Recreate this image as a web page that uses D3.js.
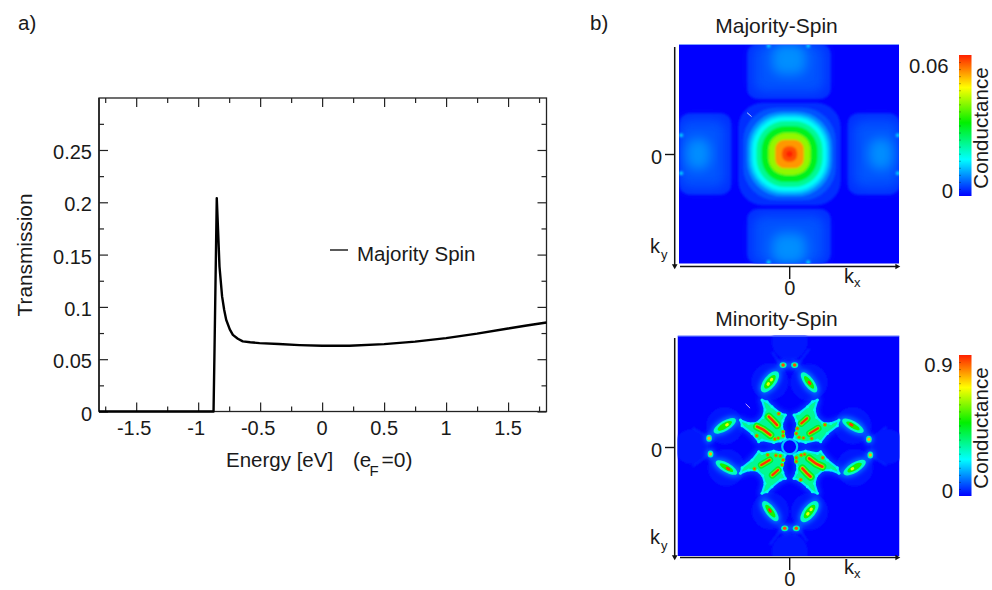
<!DOCTYPE html>
<html><head><meta charset="utf-8">
<script src="https://cdn.jsdelivr.net/npm/d3@7/dist/d3.min.js"></script>
<style>html,body{margin:0;padding:0;background:#fff}svg{display:block}text{font-family:"Liberation Sans",Arial,sans-serif;fill:#1a1a1a}</style>
</head><body><svg id="c" width="992" height="590"></svg>
<script>
// ---------- panel a) data ----------
const energy = [-1.8,-1.5,-1.2,-0.95,-0.876,-0.868,-0.85,-0.84,-0.828,-0.807,-0.79,-0.774,-0.745,-0.72,-0.68,-0.64,-0.58,-0.505,-0.35,-0.183,0,0.22,0.5,0.75,1,1.25,1.5,1.65,1.81];
const transmission = [0,0,0,0,0,0.06,0.204,0.175,0.1386,0.110,0.097,0.0877,0.0785,0.0733,0.0695,0.067,0.0662,0.0654,0.0645,0.0635,0.0628,0.0628,0.0644,0.0668,0.0702,0.0744,0.0793,0.0822,0.0851];
const xTicks = [-1.5,-1,-0.5,0,0.5,1,1.5];
const xMinor = [-1.75,-1.25,-0.75,-0.25,0.25,0.75,1.25,1.75];
const yTicks = [0,0.05,0.1,0.15,0.2,0.25];
const yMinor = [0.025,0.075,0.125,0.175,0.225,0.275];

// ---------- panel b) majority map: [half-width, corner, conductance] in k units ----------
const majorityBands = [[0.465,0.22,0.003],[0.42,0.3,0.0055],[0.385,0.32,0.0095],[0.36,0.31,0.0135],[0.335,0.29,0.0175],[0.30,0.26,0.024],[0.255,0.22,0.032],[0.19,0.155,0.043],[0.13,0.085,0.057],[0.07,0.06,0.062],[0.03,0.03,0.065]];
// [x0,x1,y0,y1,corner,conductance,blur id]
const majorityLobes = [
  [-0.385,0.375,0.50,1.0,0.09,0.003,"b1"],[-0.33,0.32,0.56,1.0,0.09,0.0055,"b4"],[-0.16,0.15,0.72,1.0,0.09,0.0095,"b4"],
  [-0.385,0.375,-1.0,-0.50,0.09,0.003,"b1"],[-0.33,0.32,-1.0,-0.56,0.09,0.0055,"b4"],[-0.16,0.15,-1.0,-0.72,0.09,0.0095,"b4"],
  [-1.0,-0.53,-0.37,0.37,0.09,0.003,"b1"],[-1.0,-0.58,-0.31,0.31,0.09,0.0055,"b4"],[-0.94,-0.72,-0.14,0.14,0.09,0.0095,"b4"],
  [0.53,1.0,-0.37,0.37,0.09,0.003,"b1"],[0.58,1.0,-0.31,0.31,0.09,0.0055,"b4"],[0.72,0.94,-0.14,0.14,0.09,0.0095,"b4"]
];
const majoritySpots = [[-0.19,0.985,0.014],[0.17,0.985,0.014],[-0.19,-0.985,0.014],[0.17,-0.985,0.014],[-0.985,0.17,0.014],[-0.985,-0.175,0.014],[0.985,0.17,0.014],[0.985,-0.175,0.014]];

// ---------- panel b) minority map, upper half; the lower half is its 180-degree image ----------
const clusterOutline = [[-0.252,0.424],[-0.206,0.409],[-0.161,0.364],[-0.085,0.303],[-0.039,0.288],[-0.062,0.235],[-0.072,0.19],[-0.055,0.125],[-0.039,0.07],[-0.085,0.052],[-0.145,0.039],[-0.252,0.061],[-0.282,0.045],[-0.342,0.121],[-0.433,0.191],[-0.448,0.242],[-0.373,0.212],[-0.30,0.215],[-0.245,0.265],[-0.225,0.335]];
const streaksLeft = [[[-0.297,0.182],[-0.24,0.155],[-0.176,0.106]],[[-0.19,0.273],[-0.155,0.24],[-0.115,0.197]]];
const streaksRight = [[[0.106,0.212],[0.158,0.258]],[[0.182,0.121],[0.258,0.167]]];
const clusterDots = [[-0.105,0.078],[-0.06,0.1],[-0.06,0.135],[-0.135,0.07],[0.085,0.085],[0.06,0.12],[0.125,0.08],[0.07,0.165],[0.2,0.075],[0.32,0.2],[-0.3,0.1],[-0.1,0.3]];
// [x,y,half length,half width,angle,conductance]
const minorityBlobs = [
  [-0.18,0.59,0.135,0.075,52,0.12],[-0.18,0.59,0.115,0.055,52,0.32],[-0.18,0.59,0.075,0.032,52,0.54],[-0.195,0.57,0.018,0.014,52,0.75],[-0.165,0.61,0.018,0.014,52,0.75],
  [0.176,0.585,0.135,0.065,-53,0.12],[0.176,0.585,0.11,0.044,-53,0.32],[0.176,0.585,0.07,0.024,-53,0.54],[0.18,0.58,0.022,0.013,-53,0.98],
  [-0.59,0.19,0.135,0.065,31,0.12],[-0.59,0.19,0.115,0.046,31,0.32],[-0.59,0.19,0.075,0.026,31,0.54],[-0.57,0.2,0.018,0.013,31,0.75],
  [0.575,0.19,0.135,0.065,-30,0.12],[0.575,0.19,0.11,0.042,-30,0.32],[0.575,0.19,0.07,0.022,-30,0.54],[0.56,0.2,0.022,0.013,-30,0.98],
  [-0.06,0.742,0.05,0.04,0,0.12],[0.045,0.742,0.05,0.04,0,0.12],[-0.06,0.742,0.032,0.026,0,0.34],[0.045,0.742,0.032,0.026,0,0.34],[-0.06,0.742,0.016,0.016,0,0.95],[0.045,0.742,0.016,0.016,0,0.95],
  [-0.733,0.076,0.04,0.048,0,0.12],[0.72,0.067,0.04,0.048,0,0.12],[-0.733,0.076,0.026,0.032,0,0.34],[0.72,0.067,0.026,0.032,0,0.34],[-0.733,0.076,0.015,0.016,0,0.85],[0.72,0.067,0.015,0.016,0,0.85]
];
const minorityHalos = [[0,0.955,0.165],[-0.89,0,0.16],[-0.18,0.59,0.17],[0.176,0.585,0.17],[-0.59,0.19,0.17],[0.575,0.19,0.17]];
const minorityTails = [[[-0.1,0.77],[-0.16,0.86]],[[0.09,0.77],[0.18,0.89]],[[-0.77,0.1],[-0.88,0.17]],[[0.76,0.09],[0.88,0.18]]];
const colorStops = [0,0.26,0.52,0.77,1];
const colorNames = ["#0000ff","#00ffff","#00f000","#ffff00","#ff2000"];

// ---------- layout ----------
const svg = d3.select("#c");
const defs = svg.append("defs");
function blur(id,s){defs.append("filter").attr("id",id).attr("x","-30%").attr("y","-30%").attr("width","160%").attr("height","160%").append("feGaussianBlur").attr("stdDeviation",s);}
blur("b05",0.8);blur("b06",0.7);blur("b1",1.2);blur("b2",2.4);blur("b4",6);
const txt=(x,y,s,size,anchor)=>svg.append("text").attr("x",x).attr("y",y).attr("font-size",size).attr("text-anchor",anchor||"start").text(s);

// panel a
const x = d3.scaleLinear([-1.8,1.81],[99,546.5]);
const y = d3.scaleLinear([0,0.2997],[411.5,98]);
const ax=(gen,ty,vals,len)=>{const g=svg.append("g").attr("transform",ty).call(gen.tickValues(vals).tickSize(len).tickSizeOuter(0).tickFormat(""));g.select(".domain").remove();g.selectAll("line").attr("stroke","#222").attr("stroke-width",1.2);return g;};
svg.append("rect").attr("x",99).attr("y",98).attr("width",447.5).attr("height",313.5).attr("fill","none").attr("stroke","#222").attr("stroke-width",1.3);
svg.append("line").attr("x1",99).attr("x2",99).attr("y1",98).attr("y2",411.5).attr("stroke","#222").attr("stroke-width",1.6);
ax(d3.axisTop(x),"translate(0,411.5)",xTicks,9);
ax(d3.axisTop(x),"translate(0,411.5)",xMinor,5);
ax(d3.axisBottom(x),"translate(0,98)",xTicks,9);
ax(d3.axisBottom(x),"translate(0,98)",xMinor,5);
ax(d3.axisRight(y),"translate(99,0)",yTicks,9);
ax(d3.axisRight(y),"translate(99,0)",yMinor,5);
ax(d3.axisLeft(y),"translate(546.5,0)",yTicks,9);
ax(d3.axisLeft(y),"translate(546.5,0)",yMinor,5);
xTicks.forEach(v=>txt(x(v)-(v<0?2:0),435,String(v),20,"middle"));
yTicks.forEach(v=>txt(92,y(v)+9,String(v),20,"end"));
svg.append("path").attr("d",d3.line().x((d,i)=>x(energy[i])).y(d=>y(d))(transmission)).attr("fill","none").attr("stroke","#000").attr("stroke-width",2.4).attr("stroke-linejoin","round");
svg.append("line").attr("x1",330).attr("x2",348).attr("y1",250).attr("y2",250).attr("stroke","#000").attr("stroke-width",1.3);
txt(357,261,"Majority Spin",20.5);
txt(226,467,"Energy [eV]",20.5);
txt(353,467,"(e",20.5);
svg.append("text").attr("x",369.5).attr("y",476).attr("font-size",15).text("F");
txt(381.5,467,"=0)",21);
svg.append("text").attr("transform","translate(31.5,255) rotate(-90)").attr("text-anchor","middle").attr("font-size",20.8).text("Transmission");
txt(18,30,"a)",20.5);
txt(590,30,"b)",20.5);

// colours
function colorFor(max){return d3.scaleLinear(colorStops.map(s=>s*max),colorNames).clamp(true);}
const grad=defs.append("linearGradient").attr("id","cbar").attr("x1",0).attr("x2",0).attr("y1",1).attr("y2",0);
colorStops.forEach((s,i)=>grad.append("stop").attr("offset",s).attr("stop-color",colorNames[i]));

function colorbar(top,bot,topLabel,topLabelX,topY,zeroY,confY){
  svg.append("rect").attr("x",959).attr("y",top).attr("width",12.5).attr("height",bot-top).attr("fill","url(#cbar)");
  const s=d3.scaleLinear([0,1],[bot,top]);
  const g=svg.append("g").attr("transform","translate(959,0)").call(d3.axisRight(s).tickValues(d3.range(1,20).map(d=>d/20)).tickSize(2).tickFormat(""));
  g.select(".domain").remove();g.selectAll("line").attr("stroke","#000").attr("stroke-opacity",0.3);
  txt(topLabelX,topY,topLabel,20.3,"end");
  txt(953,zeroY,"0",20.3,"end");
  svg.append("text").attr("transform",`translate(988,${confY}) rotate(-90)`).attr("text-anchor","middle").attr("font-size",20.6).text("Conductance");
}
function frame(cy,top,bot,titleY,title){
  const s=svg.append("g");
  const mid=789.7;
  s.append("line").attr("x1",674.7).attr("x2",674.7).attr("y1",top+2).attr("y2",bot+1).attr("stroke","#111").attr("stroke-width",1.5);
  s.append("path").attr("d",d3.symbol(d3.symbolTriangle,14)()).attr("transform",`translate(674.7,${bot+1}) rotate(180)`).attr("fill","#111");
  s.append("line").attr("x1",680).attr("x2",897).attr("y1",bot+1.5).attr("y2",bot+1.5).attr("stroke","#111").attr("stroke-width",1.5);
  s.append("path").attr("d",d3.symbol(d3.symbolTriangle,14)()).attr("transform",`translate(897,${bot+1.5}) rotate(90)`).attr("fill","#111");
  s.append("line").attr("x1",665).attr("x2",674).attr("y1",cy).attr("y2",cy).attr("stroke","#111").attr("stroke-width",1.4);
  s.append("line").attr("x1",mid).attr("x2",mid).attr("y1",bot+2).attr("y2",bot+14).attr("stroke","#111").attr("stroke-width",1.4);
  txt(662,cy+9.5,"0",20,"end");
  txt(mid,bot+30,"0",20,"middle");
  txt(650,bot-12,"k",20);
  svg.append("text").attr("x",661).attr("y",bot-6).attr("font-size",13).text("y");
  txt(844,bot+18,"k",20);
  svg.append("text").attr("x",854).attr("y",bot+22).attr("font-size",13).text("x");
  txt(776.5,titleY,title,21,"middle");
}

// majority
(function(){
  const kx=d3.scaleLinear([-1,1],[679.5,899.5]), ky=d3.scaleLinear([-1,1],[264,44]);
  const col=colorFor(0.065);
  defs.append("clipPath").attr("id","clipA").append("rect").attr("x",679).attr("y",44).attr("width",220).attr("height",219.5);
  const g=svg.append("g").attr("clip-path","url(#clipA)");
  g.append("rect").attr("x",679).attr("y",44).attr("width",220).attr("height",220).attr("fill","#0000ff");
  const l=g.append("g");
  l.selectAll("rect.l").data(majorityLobes).join("rect").attr("class","l")
    .attr("x",d=>kx(d[0])).attr("width",d=>kx(d[1])-kx(d[0])).attr("y",d=>ky(d[3])).attr("height",d=>ky(d[2])-ky(d[3]))
    .attr("rx",d=>kx(d[4])-kx(0)).attr("fill",d=>col(d[5])).attr("filter",d=>`url(#${d[6]})`);
  const b=g.append("g").attr("filter","url(#b05)");
  b.selectAll("rect.b").data(majorityBands).join("rect").attr("class","b")
    .attr("x",d=>kx(-d[0])).attr("width",d=>kx(d[0])-kx(-d[0])).attr("y",d=>ky(d[0])).attr("height",d=>ky(-d[0])-ky(d[0]))
    .attr("rx",d=>kx(d[1])-kx(0)).attr("fill",d=>col(d[2]));
  g.append("g").attr("filter","url(#b05)").selectAll("circle").data(majoritySpots).join("circle")
    .attr("cx",d=>kx(d[0])).attr("cy",d=>ky(d[1])).attr("r",2).attr("fill",d=>col(d[2]));
  g.append("rect").attr("x",679).attr("y",44).attr("width",220).attr("height",1).attr("fill","#7f9fff");
  g.append("line").attr("x1",kx(-0.385)).attr("y1",ky(0.375)).attr("x2",kx(-0.345)).attr("y2",ky(0.34)).attr("stroke","#c8d4ff").attr("stroke-width",1);
})();

// minority
(function(){
  const kx=d3.scaleLinear([-1,1],[679.7,899.7]), ky=d3.scaleLinear([-1,1],[556.7,336.7]);
  const col=colorFor(1);
  defs.append("clipPath").attr("id","clipB").append("rect").attr("x",677.5).attr("y",335.5).attr("width",222).attr("height",220.5);
  const g=svg.append("g").attr("clip-path","url(#clipB)");
  g.append("rect").attr("x",677.5).attr("y",335.5).attr("width",222).attr("height",220.5).attr("fill","#0000ff");
  const line=d3.line().x(d=>kx(d[0])).y(d=>ky(d[1]));
  const sides=[1,-1];
  const faint=g.append("g").attr("filter","url(#b1)");
  const halo=g.append("g").attr("filter","url(#b2)");
  const main=g.append("g").attr("filter","url(#b06)");
  sides.forEach(s=>{
    const rot=p=>[p[0]*s,p[1]*s];
    minorityHalos.forEach((h,i)=>{
      const c=rot(h);
      faint.append("circle").attr("cx",kx(c[0])).attr("cy",ky(c[1])).attr("r",kx(h[2])-kx(0)).attr("fill",col(0.018));
    });
    minorityTails.forEach(t=>{
      faint.append("path").attr("d",line(t.map(rot))).attr("fill","none").attr("stroke",col(0.04)).attr("stroke-width",2);
    });
    [clusterOutline,clusterOutline.map(p=>[-p[0],p[1]])].forEach(o=>{
      const pts=o.map(rot);
      halo.append("path").attr("d",line(pts)+"Z").attr("fill",col(0.06)).attr("stroke",col(0.06)).attr("stroke-width",7).attr("stroke-linejoin","round");
      main.append("path").attr("d",line(pts)+"Z").attr("fill",col(0.37)).attr("stroke",col(0.24)).attr("stroke-width",2).attr("stroke-linejoin","round");
      pts.forEach(p=>main.append("circle").attr("cx",kx(p[0])).attr("cy",ky(p[1])).attr("r",1.5).attr("fill",col(0.28)));
    });
    [[streaksLeft,0.48,8],[streaksRight,0.48,7],[streaksLeft,0.66,4.5],[streaksRight,0.64,4]].forEach(([st,v,w])=>st.forEach(seg=>{
      main.append("path").attr("d",line(seg.map(rot))).attr("fill","none").attr("stroke",col(v)).attr("stroke-width",w).attr("stroke-linecap","round");
    }));
    clusterDots.forEach(p=>{const c=rot(p);
      main.append("circle").attr("cx",kx(c[0])).attr("cy",ky(c[1])).attr("r",2.2).attr("fill",col(0.6));
      main.append("circle").attr("cx",kx(c[0])).attr("cy",ky(c[1])).attr("r",1.2).attr("fill",col(0.95));
    });
    [[streaksLeft,2.6],[streaksRight,2.3]].forEach(([st,w])=>st.forEach(seg=>{
      main.append("path").attr("d",line(seg.map(rot))).attr("fill","none").attr("stroke",col(0.98)).attr("stroke-width",w).attr("stroke-linecap","round");
    }));
    minorityBlobs.forEach(d=>{
      const c=rot(d);
      (d[5]<0.15?halo:main).append("ellipse").attr("rx",kx(d[2])-kx(0)).attr("ry",kx(d[3])-kx(0)).attr("fill",col(d[5]))
        .attr("transform",`translate(${kx(c[0])},${ky(c[1])}) rotate(${-d[4]})`);
    });
  });
  main.append("circle").attr("cx",kx(0)).attr("cy",ky(0)).attr("r",kx(0.068)-kx(0)).attr("fill","#0000ff").attr("stroke",col(0.2)).attr("stroke-width",2.2);
  g.append("rect").attr("x",677.5).attr("y",335.5).attr("width",222).attr("height",1).attr("fill","#7f9fff");
  g.append("line").attr("x1",kx(-0.4)).attr("y1",ky(0.39)).attr("x2",kx(-0.36)).attr("y2",ky(0.35)).attr("stroke","#c8a8ff").attr("stroke-width",1);
})();

frame(154.5,45,265,33,"Majority-Spin");
frame(447.5,336,556,326,"Minority-Spin");
colorbar(55,196,"0.06",948.5,72.5,198,128);
colorbar(355,496,"0.9",952.5,372,498,428);
</script></body></html>
